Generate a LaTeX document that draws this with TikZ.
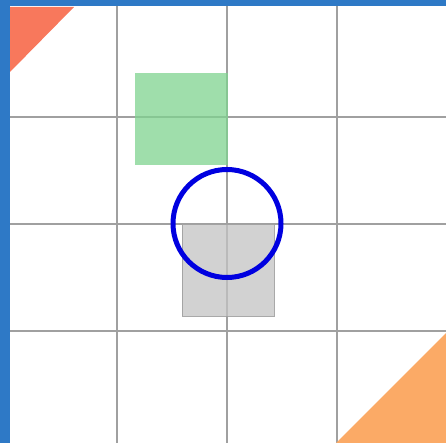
\documentclass[tikz,border=0pt]{standalone}
\usepackage{tikz}
\definecolor{bgblue}{HTML}{2E79C6}
\definecolor{gridgray}{HTML}{A0A0A0}
\definecolor{tomatored}{HTML}{F8785C}
\definecolor{softorange}{HTML}{FBAA66}
\definecolor{softgreen}{HTML}{7FD48F}
\definecolor{softgray}{HTML}{C4C4C4}
\definecolor{ringblue}{HTML}{0000E0}
\tikzset{
  gridline/.style={draw=gridgray, line width=1.8},
  greensq/.style={fill=softgreen, fill opacity=0.75},
  graysq/.style={fill=softgray, fill opacity=0.75, draw=gridgray, draw opacity=0.9, line width=0.8},
  ring/.style={draw=ringblue, line width=5}
}
\begin{document}
\begin{tikzpicture}[x=1pt,y=-1pt]
\useasboundingbox (0,0) rectangle (446,443);
% background
\fill[bgblue] (0,0) rectangle (446,443);
\fill[white] (10,6) rectangle (446,443);
% grid
\foreach \gx in {117,227,337} \draw[gridline] (\gx,6) -- (\gx,443);
\foreach \gy in {117,224,331} \draw[gridline] (10,\gy) -- (446,\gy);
% triangles
\fill[tomatored] (10,7) -- (74,7) -- (10,72) -- cycle;
\fill[softorange] (446,333) -- (446,443) -- (336,443) -- cycle;
% squares
\path[greensq] (135,73) rectangle (228,165);
\path[graysq] (182,224) rectangle (274,316);
% circle
\draw[ring] (227,223.5) circle (54);
\end{tikzpicture}
\end{document}
